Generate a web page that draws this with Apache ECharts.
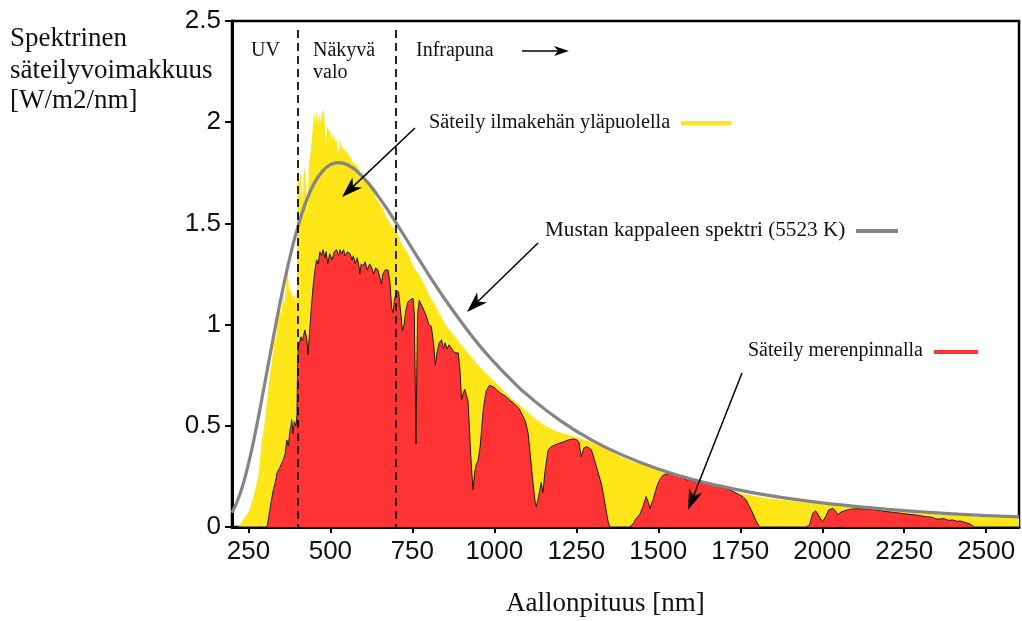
<!DOCTYPE html>
<html>
<head>
<meta charset="utf-8">
<script src="https://cdn.jsdelivr.net/npm/echarts@6/dist/echarts.min.js"></script>
<style>html,body{margin:0;padding:0;background:#fff}#c{width:1022px;height:621px}</style>
</head>
<body>
<div id="c"></div>
<script>
// ---- data (wavelength nm, spectral irradiance W/m2/nm) ----
const xTicks = [250, 500, 750, 1000, 1250, 1500, 1750, 2000, 2250, 2500];
const yTicks = [0, 0.5, 1, 1.5, 2, 2.5];
const regionBounds = [400, 700];

const aboveAtmosphere = [
  [200,0],[220,0],[225,0.005],[235,0.04],[245,0.06],[255,0.09],[265,0.15],[275,0.215],[280,0.25],[285,0.32],
  [290,0.42],[295,0.46],[300,0.52],[305,0.6],[311,0.68],[315,0.75],[320,0.8],[325,0.86],[331,0.96],[334,0.9],
  [336,0.98],[340,1.04],[345,1.08],[350,1.05],[356,1.15],[360,1.1],[365,1.2],[368,1.28],[372,1.22],[376,1.15],
  [380,1.18],[385,1.13],[390,1.15],[395,1.1],[398,1.2],[400,1.73],[405,1.7],[410,1.75],[415,1.6],[420,1.78],
  [425,1.72],[430,1.55],[435,1.8],[440,1.85],[445,1.95],[450,2.04],[455,2.0],[458,2.06],[462,1.98],[466,2.04],
  [470,2.0],[474,2.05],[478,2.06],[482,2.02],[486,1.88],[490,1.98],[495,1.96],[500,1.95],[505,1.92],[510,1.94],
  [515,1.9],[519,1.91],[525,1.85],[529,1.91],[535,1.88],[540,1.87],[545,1.86],[550,1.86],[560,1.83],[570,1.8],
  [580,1.79],[590,1.76],[600,1.74],[610,1.71],[620,1.69],[630,1.66],[640,1.62],[650,1.6],[661,1.57],[670,1.53],
  [680,1.51],[690,1.48],[702,1.47],[710,1.43],[720,1.39],[730,1.37],[742,1.335],[750,1.3],[760,1.27],[770,1.25],
  [783,1.21],[800,1.15],[825,1.08],[850,1.0],[875,0.95],[900,0.9],[925,0.85],[950,0.8],[975,0.76],[1000,0.72],
  [1025,0.68],[1050,0.64],[1075,0.605],[1100,0.57],[1125,0.535],[1150,0.505],[1185,0.475],[1210,0.462],
  [1235,0.452],[1260,0.44],[1285,0.425],[1311,0.41],[1350,0.385],[1382,0.35],[1423,0.323],[1475,0.298],
  [1525,0.273],[1575,0.25],[1626,0.226],[1675,0.2],[1727,0.176],[1780,0.157],[1829,0.143],[1880,0.133],
  [1931,0.125],[1992,0.114],[2032,0.108],[2080,0.1],[2134,0.092],[2185,0.084],[2235,0.077],[2285,0.07],
  [2337,0.064],[2390,0.059],[2439,0.054],[2490,0.05],[2540,0.046],[2600,0.043]
];

const seaLevel = [
  [200,0],[305,0],[308,0.01],[315,0.08],[320,0.13],[326,0.183],[332,0.22],[338,0.27],[345,0.29],[350,0.31],
  [356,0.33],[362,0.36],[367,0.43],[372,0.4],[376,0.47],[380,0.5],[382,0.53],[386,0.46],[390,0.52],[395,0.5],
  [398,0.55],[400,0.8],[402,0.885],[410,0.94],[415,0.92],[422,0.973],[428,0.93],[432,0.85],[436,0.95],[443,1.106],
  [448,1.2],[453,1.27],[458,1.32],[463,1.3],[468,1.36],[473,1.34],[478,1.37],[483,1.33],[487,1.36],[492,1.3],
  [498,1.35],[505,1.32],[512,1.36],[519,1.37],[525,1.34],[529,1.37],[535,1.35],[540,1.37],[545,1.34],[552,1.36],
  [560,1.35],[566,1.32],[570,1.34],[576,1.3],[582,1.33],[587,1.29],[590,1.25],[594,1.3],[600,1.29],[606,1.31],
  [612,1.27],[620,1.3],[626,1.28],[632,1.25],[638,1.28],[645,1.27],[651,1.27],[656,1.2],[660,1.25],[667,1.27],
  [676,1.27],[682,1.2],[687,1.08],[691,1.06],[695,1.12],[702,1.17],[708,1.16],[715,1.05],[720,0.97],[725,1.0],
  [730,1.07],[736,1.11],[742,1.12],[752,1.13],[756,1.05],[759,0.7],[761,0.41],[763,0.7],[766,1.05],[771,1.12],
  [780,1.09],[793,1.04],[800,1.0],[808,0.99],[815,0.9],[820,0.8],[825,0.86],[832,0.91],[839,0.925],[845,0.88],
  [850,0.91],[856,0.88],[862,0.9],[870,0.88],[880,0.86],[890,0.86],[895,0.78],[900,0.627],[905,0.66],[910,0.68],
  [915,0.685],[920,0.62],[925,0.45],[930,0.3],[935,0.183],[940,0.27],[945,0.31],[950,0.325],[957,0.4],[966,0.578],
  [975,0.67],[985,0.7],[991,0.7],[1000,0.69],[1007,0.677],[1020,0.66],[1035,0.645],[1047,0.627],[1060,0.61],
  [1075,0.585],[1088,0.545],[1095,0.52],[1103,0.464],[1110,0.35],[1118,0.217],[1124,0.13],[1128,0.1],[1135,0.15],
  [1143,0.22],[1148,0.17],[1155,0.28],[1164,0.38],[1172,0.395],[1178,0.4],[1184,0.405],[1192,0.41],[1200,0.415],
  [1210,0.42],[1225,0.43],[1240,0.435],[1250,0.432],[1258,0.42],[1265,0.347],[1273,0.39],[1281,0.397],[1290,0.39],
  [1296,0.38],[1304,0.34],[1311,0.3],[1318,0.26],[1326,0.216],[1335,0.14],[1342,0.07],[1348,0.02],[1352,0],
  [1413,0],[1425,0.02],[1433,0.043],[1443,0.06],[1453,0.1],[1463,0.15],[1470,0.12],[1475,0.09],[1480,0.12],
  [1484,0.133],[1492,0.18],[1499,0.216],[1507,0.24],[1514,0.255],[1525,0.262],[1535,0.265],[1550,0.258],
  [1565,0.25],[1570,0.246],[1577,0.243],[1585,0.232],[1595,0.235],[1605,0.23],[1615,0.228],[1626,0.222],
  [1640,0.218],[1655,0.21],[1667,0.205],[1680,0.2],[1695,0.195],[1707,0.19],[1720,0.182],[1735,0.17],
  [1748,0.158],[1758,0.15],[1768,0.133],[1778,0.1],[1788,0.069],[1798,0.03],[1809,0],[1951,0],[1961,0.01],
  [1971,0.069],[1980,0.08],[1986,0.076],[1995,0.04],[2001,0.026],[2010,0.05],[2020,0.085],[2032,0.092],
  [2040,0.08],[2047,0.06],[2058,0.075],[2068,0.08],[2080,0.086],[2093,0.089],[2110,0.09],[2134,0.089],
  [2160,0.085],[2195,0.076],[2220,0.072],[2256,0.064],[2280,0.06],[2317,0.051],[2335,0.048],[2345,0.04],
  [2357,0.039],[2370,0.042],[2385,0.033],[2398,0.035],[2410,0.028],[2420,0.03],[2439,0.021],[2450,0.015],
  [2464,0],[2600,0]
];

const blackbody = [
  [200,0.07],[225,0.166],[250,0.311],[275,0.498],[300,0.711],[325,0.928],[350,1.136],[375,1.322],[400,1.479],
  [425,1.604],[450,1.696],[475,1.756],[500,1.79],[525,1.8],[550,1.791],[600,1.727],[650,1.625],[700,1.504],
  [750,1.374],[800,1.246],[850,1.124],[900,1.011],[950,0.906],[1000,0.813],[1050,0.729],[1100,0.653],
  [1200,0.527],[1300,0.427],[1400,0.349],[1500,0.287],[1600,0.237],[1700,0.198],[1800,0.166],[1900,0.14],
  [2000,0.119],[2200,0.087],[2400,0.065],[2600,0.05]
];

const labels = {
  yTitle: ['Spektrinen', 'säteilyvoimakkuus', '[W/m2/nm]'],
  xTitle: 'Aallonpituus [nm]',
  top: 'Säteily ilmakehän yläpuolella',
  bb: 'Mustan kappaleen spektri (5523 K)',
  sea: 'Säteily merenpinnalla',
  uv: 'UV', vis: ['Näkyvä', 'valo'], ir: 'Infrapuna'
};

// ---- styling ----
const YELLOW = '#FFE619', RED = '#FF3333', GRAY = '#858585';
const SERIF = '"Liberation Serif","Times New Roman",serif';
const SANS = '"Liberation Sans",Arial,sans-serif';

const chart = echarts.init(document.getElementById('c'), null, {renderer: 'canvas'});

function txt(x, y, s, size, sx) {
  return {type: 'text', x: x, y: y, z: 100, scaleX: sx || 1,
    style: {text: s, font: size + 'px ' + SERIF, fill: '#111', textAlign: 'left', textVerticalAlign: 'middle'}};
}
function seg(x1, y1, x2, y2, color, w) {
  return {type: 'line', z: 100, shape: {x1: x1, y1: y1, x2: x2, y2: y2}, style: {stroke: color, lineWidth: w}};
}
function arrow(x1, y1, x2, y2, len, wid) {
  const dx = x2 - x1, dy = y2 - y1, L = Math.hypot(dx, dy);
  const ux = dx / L, uy = dy / L, px = -uy, py = ux;
  const bx = x2 - ux * len, by = y2 - uy * len;
  const nx = x2 - ux * len * 0.72, ny = y2 - uy * len * 0.72;
  return [
    seg(x1, y1, nx, ny, '#000', 1.5),
    {type: 'polygon', z: 100, shape: {points: [[x2, y2], [bx + px * wid / 2, by + py * wid / 2], [nx, ny], [bx - px * wid / 2, by - py * wid / 2]]},
      style: {fill: '#000'}}
  ];
}

const graphics = [];
labels.yTitle.forEach((s, i) => graphics.push(txt(10, [39, 71, 101][i], s, 27)));
graphics.push(txt(506, 604, labels.xTitle, 27));
graphics.push(txt(251, 51, labels.uv, 20));
graphics.push(txt(313, 51, labels.vis[0], 20));
graphics.push(txt(313, 73, labels.vis[1], 20));
graphics.push(txt(416, 51, labels.ir, 20));
graphics.push(...arrow(522, 51, 569, 51, 15, 10));
graphics.push(txt(429, 123, labels.top, 20, 1.015));
graphics.push(seg(681, 123, 731, 123, YELLOW, 4));
graphics.push(...arrow(415, 128, 342, 197, 21, 14));
graphics.push(txt(545, 231, labels.bb, 20, 1.06));
graphics.push(seg(856, 231, 898, 231, GRAY, 4));
graphics.push(...arrow(538, 243, 467, 312, 21, 14));
graphics.push(txt(748, 351, labels.sea, 20));
graphics.push(seg(934, 352, 978, 352, RED, 4));
graphics.push(...arrow(742, 373, 688, 510, 21, 14));

chart.setOption({
  animation: false,
  backgroundColor: '#fff',
  grid: {left: 232, right: 3, top: 21, bottom: 94, show: true, borderColor: '#000', borderWidth: 2.5, containLabel: false},
  xAxis: {
    type: 'value', min: 200, max: 2600,
    axisLine: {show: true, onZero: false, lineStyle: {color: '#000', width: 3}},
    axisTick: {show: true, customValues: xTicks, length: 6, lineStyle: {color: '#000', width: 2}},
    axisLabel: {customValues: xTicks, margin: 12, fontSize: 26, fontFamily: SANS, color: '#111',
      formatter: v => String(v)},
    splitLine: {show: false}
  },
  yAxis: {
    type: 'value', min: 0, max: 2.5, interval: 0.5,
    axisLine: {show: true, lineStyle: {color: '#000', width: 3}},
    axisTick: {show: true, length: 7, lineStyle: {color: '#000', width: 2}},
    axisLabel: {margin: 11, fontSize: 26, fontFamily: SANS, color: '#111', formatter: v => String(v)},
    splitLine: {show: false}
  },
  series: [
    {name: 'top', type: 'line', data: aboveAtmosphere, showSymbol: false, symbol: 'none', z: 2,
      lineStyle: {width: 0, color: YELLOW}, areaStyle: {color: YELLOW, opacity: 1},
      markLine: {silent: true, symbol: 'none', label: {show: false},
        lineStyle: {color: '#000', type: [8, 5], width: 1.7},
        data: regionBounds.map(b => [{coord: [b, 2.455]}, {coord: [b, 0]}])}},
    {name: 'sea', type: 'line', data: seaLevel, showSymbol: false, symbol: 'none', z: 3,
      lineStyle: {width: 1, color: '#1a1a1a'}, areaStyle: {color: RED, opacity: 1}},
    {name: 'bb', type: 'line', data: blackbody, showSymbol: false, symbol: 'none', z: 4, smooth: true,
      lineStyle: {width: 3.2, color: GRAY}}
  ],
  graphic: graphics
});
</script>
</body>
</html>
